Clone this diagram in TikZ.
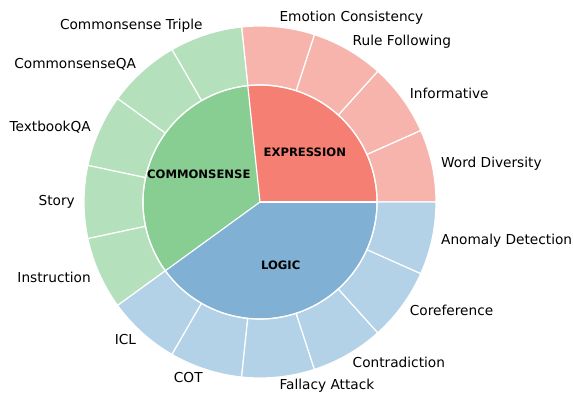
\documentclass[tikz,border=0pt]{standalone}
\usepackage{fontspec}
\setmainfont{DejaVu Sans}
\definecolor{exin}{HTML}{F57F72}
\definecolor{exout}{HTML}{F6B4AC}
\definecolor{csin}{HTML}{88CD92}
\definecolor{csout}{HTML}{B4E0BC}
\definecolor{lgin}{HTML}{80B1D4}
\definecolor{lgout}{HTML}{B3D1E7}
\tikzset{
  edge/.style={draw=white,line width=1.2pt,line join=round},
  outlabel/.style={inner sep=0pt,font=\fontsize{13.7}{16}\selectfont},
  inlabel/.style={inner sep=0pt,font=\fontsize{11.6}{14}\selectfont\bfseries},
}
\begin{document}
\begin{tikzpicture}[x=1pt,y=1pt]
\useasboundingbox (0,0) rectangle (574,392);
\begin{scope}[shift={(260,190)}]
% inner wedges
\fill[exin] (0,0) -- (0:117) arc (0:96:117) -- cycle;
\fill[csin] (0,0) -- (96:117) arc (96:216:117) -- cycle;
\fill[lgin] (0,0) -- (216:117) arc (216:360:117) -- cycle;
% outer ring
\foreach \i in {0,...,14}{
  \pgfmathsetmacro{\a}{24*\i}
  \pgfmathsetmacro{\b}{24*\i+24}
  \ifnum\i<4 \def\col{exout}\else\ifnum\i<9 \def\col{csout}\else\def\col{lgout}\fi\fi
  \fill[\col,edge] (\a:117) -- (\a:176) arc (\a:\b:176) -- (\b:117) arc (\b:\a:117) -- cycle;
}
\draw[edge] (0,0) -- (0:117);
\draw[edge] (0,0) -- (96:117);
\draw[edge] (0,0) -- (216:117);
\draw[edge] (0,0) circle (117);
% inner labels
\node[inlabel] (ex) at (48:67) {EXPRESSION};
\node[inlabel] (cs) at (156:67) {COMMONSENSE};
\node[inlabel] (lg) at (288:67) {LOGIC};
% outer labels
\node[outlabel,anchor=west] (l1) at (12:185) {Word Diversity};
\node[outlabel,anchor=west] (l2) at (36:185) {Informative};
\node[outlabel,anchor=west] (l3) at (60:185) {Rule Following};
\node[outlabel,anchor=west] (l4) at (84:185) {Emotion Consistency};
\node[outlabel,anchor=east] (l5) at (108:185) {Commonsense Triple};
\node[outlabel,anchor=east] (l6) at (132:185) {CommonsenseQA};
\node[outlabel,anchor=east] (l7) at (156:185) {TextbookQA};
\node[outlabel,anchor=east] (l8) at (180:185) {Story};
\node[outlabel,anchor=east] (l9) at (204:185) {Instruction};
\node[outlabel,anchor=east] (l10) at (228:185) {ICL};
\node[outlabel,anchor=east] (l11) at (252:185) {COT};
\node[outlabel,anchor=west] (l12) at (276:185) {Fallacy Attack};
\node[outlabel,anchor=west] (l13) at (300:185) {Contradiction};
\node[outlabel,anchor=west] (l14) at (324:185) {Coreference};
\node[outlabel,anchor=west] (l15) at (348:185) {Anomaly Detection};
\end{scope}
\end{tikzpicture}
\end{document}
